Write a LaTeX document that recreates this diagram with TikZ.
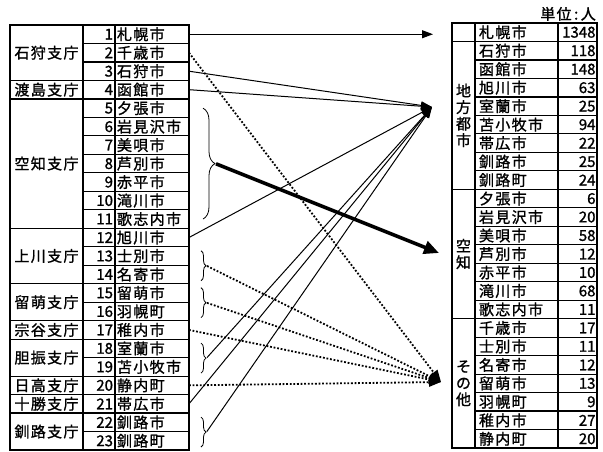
\documentclass[tikz,border=0pt]{standalone}
\usepackage{fontspec}
\setmainfont{Noto Sans CJK JP}[FakeBold=1.2]
\newfontfamily\jpfont{Noto Sans CJK JP}[LetterSpace=9, FakeBold=1.2]
\usepackage{tikz}
\usetikzlibrary{arrows.meta,positioning,decorations.pathreplacing}
\newcommand\rowh{18.48pt}

\begin{document}
\begin{tikzpicture}[x=1pt, y=-1pt, font=\fontsize{15}{16.5}\selectfont,
  cell/.style={draw, line width=1.2pt, inner sep=0pt, outer sep=0pt, minimum height=\rowh},
  numcell/.style={cell, minimum width=32pt, text width=28pt, align=right},
  citycell/.style={cell, minimum width=74pt, text width=70pt, align=left, font=\fontsize{15}{16.5}\selectfont\jpfont},
  brcell/.style={cell, minimum width=73pt, align=center, font=\fontsize{15}{16.5}\selectfont\jpfont},
  rcity/.style={cell, minimum width=83pt, text width=75pt, align=left, font=\fontsize{15}{16.5}\selectfont\jpfont},
  rval/.style={cell, minimum width=39pt, text width=36pt, align=right},
  catcell/.style={cell, minimum width=23pt, align=center},
  brace/.style={decorate, line width=0.8pt},
  tip/.style={midway, inner sep=0pt, outer sep=0pt},
  solidarr/.style={line width=1pt, -{Triangle[length=11pt,width=8pt]}},
  thickarr/.style={line width=3.6pt, -{Triangle[length=15pt,width=13pt]}},
  dotarr/.style={line width=1.8pt, dash pattern=on 1.8pt off 1.8pt, -{Triangle[length=12pt,width=9pt]}},
]
\useasboundingbox (0,0) rectangle (603,452);

\node[numcell, anchor=north west] (n1) at (83,25) {1};
\node[citycell, right=0pt of n1] (c1) {札幌市};
\foreach \i/\city [remember=\i as \j (initially 1)] in {2/千歳市,3/石狩市,4/函館市,5/夕張市,6/岩見沢市,7/美唄市,8/芦別市,9/赤平市,10/滝川市,11/歌志内市,12/旭川市,13/士別市,14/名寄市,15/留萌市,16/羽幌町,17/稚内市,18/室蘭市,19/苫小牧市,20/静内町,21/帯広市,22/釧路市,23/釧路町} {
  \node[numcell, below=0pt of n\j] (n\i) {\i};
  \node[citycell, right=0pt of n\i] (c\i) {\city};
}

\node[brcell, minimum height=3*\rowh, anchor=north east] (ishikari) at (n1.north west) {石狩支庁};
\node[brcell, below=0pt of ishikari] (oshima) {渡島支庁};
\node[brcell, minimum height=7*\rowh, below=0pt of oshima] (sorachi) {空知支庁};
\node[brcell, minimum height=3*\rowh, below=0pt of sorachi] (kamikawa) {上川支庁};
\node[brcell, minimum height=2*\rowh, below=0pt of kamikawa] (rumoi) {留萌支庁};
\node[brcell, below=0pt of rumoi] (soya) {宗谷支庁};
\node[brcell, minimum height=2*\rowh, below=0pt of soya] (iburi) {胆振支庁};
\node[brcell, below=0pt of iburi] (hidaka) {日高支庁};
\node[brcell, below=0pt of hidaka] (tokachi) {十勝支庁};
\node[brcell, minimum height=2*\rowh, below=0pt of tokachi] (kushiro) {釧路支庁};

\node[rcity, anchor=north west] (r1) at (475,23) {札幌市};
\node[rval, right=0pt of r1] (v1) {1348};
\foreach \i/\city/\num [remember=\i as \j (initially 1)] in {2/石狩市/118,3/函館市/148,4/旭川市/63,5/室蘭市/25,6/苫小牧市/94,7/帯広市/22,8/釧路市/25,9/釧路町/24,10/夕張市/6,11/岩見沢市/20,12/美唄市/58,13/芦別市/12,14/赤平市/10,15/滝川市/68,16/歌志内市/11,17/千歳市/17,18/士別市/11,19/名寄市/12,20/留萌市/13,21/羽幌町/9,22/稚内市/27,23/静内町/20} {
  \node[rcity, below=0pt of r\j] (r\i) {\city};
  \node[rval, right=0pt of r\i] (v\i) {\num};
}

\node[catcell, anchor=north east] (catsap) at (r1.north west) {};
\node[catcell, minimum height=8*\rowh, below=0pt of catsap] (catcity) {地\\方\\都\\市};
\node[catcell, minimum height=7*\rowh, below=0pt of catcity] (catsor) {空\\知};
\node[catcell, minimum height=7*\rowh, below=0pt of catsor] (catoth) {そ\\の\\他};
\node[anchor=south east, inner sep=1pt, font=\fontsize{15}{16.5}\selectfont\jpfont] (unit) at ([yshift=1pt]v1.north east) {単位\,:\,人};

\coordinate (tsap) at (433,34);
\coordinate (tcity) at (432,107);
\coordinate (tsor) at (439,253);
\coordinate (toth) at (441,382);

\draw[brace, decoration={brace, amplitude=12pt}] ([xshift=14pt]c5.east) -- ([xshift=14pt]c11.east) node[tip, right=12pt] (bsor) {};
\draw[brace, decoration={brace, amplitude=5pt}] ([xshift=12pt, yshift=-4pt]c13.north east) -- ([xshift=12pt, yshift=3pt]c14.south east) node[tip, right=5pt] (bshi) {};
\draw[brace, decoration={brace, amplitude=5pt}] ([xshift=12pt, yshift=-4pt]c15.north east) -- ([xshift=12pt, yshift=3pt]c16.south east) node[tip, right=5pt] (brum) {};
\draw[brace, decoration={brace, amplitude=5pt}] ([xshift=12pt, yshift=-4pt]c18.north east) -- ([xshift=12pt, yshift=3pt]c19.south east) node[tip, right=5pt] (bibu) {};
\draw[brace, decoration={brace, amplitude=5pt}] ([xshift=12pt, yshift=-4pt]c22.north east) -- ([xshift=12pt, yshift=3pt]c23.south east) node[tip, right=5pt] (bkus) {};

\draw[solidarr] (c1.east) -- (c1.east -| tsap);
\foreach \src in {c3.east, c4.east, c12.east, bibu, c21.east, bkus}
  \draw[solidarr] (\src) -- (tcity);
\draw[thickarr] (bsor) -- (tsor);
\foreach \src in {c2.east, bshi, brum, c17.east, c20.east}
  \draw[dotarr] (\src) -- (toth);
\end{tikzpicture}
\end{document}
